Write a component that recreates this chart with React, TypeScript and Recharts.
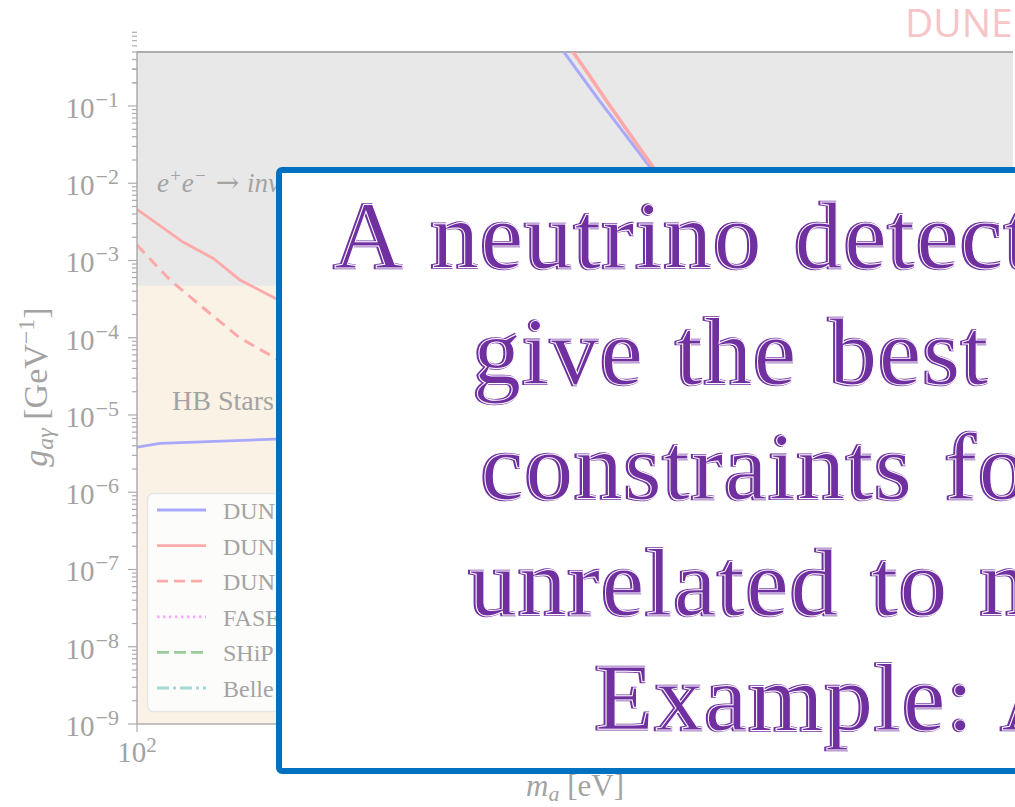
import React from 'react';
import { ComposedChart, Line, XAxis, YAxis, ReferenceArea, ReferenceLine } from 'recharts';

// Axis ranges (m_a in eV, g_aγ in GeV^-1)
const X_DOMAIN: [number, number] = [1e2, 1e10];
const Y_DOMAIN: [number, number] = [1e-9, 0.5];
const X_TICKS = [1e2];
const Y_EXPONENTS = [-9, -8, -7, -6, -5, -4, -3, -2, -1];

// Excluded regions
const EE_INVISIBLE_FLOOR = 4.7e-4; // e+e- -> inv. + γ excludes couplings above this
const HB_MASS_REACH = 1e5;

// DUNE sensitivity curves (mass in eV, coupling in GeV^-1)
const duneBlueLow = [
  { m: 100, g: 3.83e-6 },
  { m: 162, g: 4.3e-6 },
  { m: 1820, g: 4.87e-6 },
  { m: 3080, g: 4.95e-6 },
];
const duneBlueHigh = [
  { m: 6.0e5, g: 0.88 },
  { m: 7.9e5, g: 0.5 },
  { m: 1.65e6, g: 0.12 },
  { m: 4.84e6, g: 0.0162 },
  { m: 8.5e6, g: 4.5e-3 },
];
const duneRedLow = [
  { m: 100, g: 4.6e-3 },
  { m: 263, g: 1.73e-3 },
  { m: 494, g: 1.07e-3 },
  { m: 871, g: 5.6e-4 },
  { m: 1900, g: 3.16e-4 },
  { m: 3080, g: 2.3e-4 },
];
const duneRedHigh = [
  { m: 7.3e5, g: 0.88 },
  { m: 9.6e5, g: 0.5 },
  { m: 1.3e6, g: 0.27 },
  { m: 1.95e6, g: 0.115 },
  { m: 5.15e6, g: 0.0162 },
  { m: 9.1e6, g: 4.5e-3 },
];
const duneRedDashed = [
  { m: 100, g: 1.58e-3 },
  { m: 200, g: 5.6e-4 },
  { m: 376, g: 2.64e-4 },
  { m: 873, g: 9.9e-5 },
  { m: 1860, g: 5.4e-5 },
  { m: 3080, g: 3.8e-5 },
];

// Legend entries
const legendLabels = ['DUNE ND', 'DUNE ND', 'DUNE ND', 'FASER', 'SHiP', 'Belle II'];
const legendColors = ['#a9a9fb', '#fdaaaa', '#fdaaaa', '#fda6fd', '#9ccc9c', '#a2dad4'];
const legendDashes = ['', '', '11 6', '2.5 3.5', '12 5', '12 4 3 4'];

// Slide text
const titleText = 'DUNE';
const messageLines = [
  'A neutrino detector can',
  'give the best laboratory',
  'constraints for physics',
  'unrelated to neutrinos.',
  'Example: ALPs',
];
const messageStarts = [333, 472, 480, 468, 594];

const BLUE = '#a9a9fb';
const RED = '#fda9a9';
const AXIS = '#acacac';
const TEXT = '#a3a3a3';
const SERIF = '"Liberation Serif", "DejaVu Serif", serif';
const PURPLE = '#7030A0';

const yTicks: number[] = [];
for (const e of Y_EXPONENTS) {
  for (let k = 1; k <= 9; k++) yTicks.push(k * Math.pow(10, e));
}
yTicks.push(0.2, 0.3, 0.4);

const YTick = (props: any) => {
  const { x, y, payload } = props;
  const v = payload.value as number;
  const lg = Math.log10(v);
  const exp = Math.round(lg);
  const major = Math.abs(lg - exp) < 1e-6;
  return (
    <g>
      <line x1={x - (major ? 9 : 5)} x2={x} y1={y} y2={y} stroke={AXIS} strokeWidth={1.2} />
      {major && (
        <text x={x - 18} y={y + 12} textAnchor="end" fill={TEXT} fontFamily={SERIF} fontSize={29}>
          10
          <tspan dx={1} dy={-11} fontSize={22}>{`\u2212${-exp}`}</tspan>
        </text>
      )}
    </g>
  );
};

const XTick = (props: any) => {
  const { x, y, payload } = props;
  const exp = Math.round(Math.log10(payload.value));
  return (
    <g>
      <line x1={x} x2={x} y1={y} y2={y + 8} stroke={AXIS} strokeWidth={1.2} />
      <text x={x} y={y + 38} textAnchor="middle" fill={TEXT} fontFamily={SERIF} fontSize={29}>
        10
        <tspan dy={-10} fontSize={21}>{`${exp}`}</tspan>
      </text>
    </g>
  );
};

const W = 1015;
const H = 807;

export default function App() {
  return (
    <div style={{ position: 'absolute', left: 0, top: 0, width: W, height: H, overflow: 'hidden', background: '#fff' }}>
      <ComposedChart width={W} height={H} margin={{ top: 52, right: 2, bottom: 0, left: 0 }}>
        <XAxis
          dataKey="m"
          type="number"
          scale="log"
          domain={X_DOMAIN}
          allowDataOverflow
          ticks={X_TICKS}
          interval={0}
          height={83}
          tickSize={0}
          tickMargin={0}
          tickLine={false}
          tick={XTick}
          axisLine={{ stroke: AXIS, strokeWidth: 1.5 }}
        />
        <YAxis
          dataKey="g"
          type="number"
          scale="log"
          domain={Y_DOMAIN}
          allowDataOverflow
          ticks={yTicks}
          interval={0}
          width={137}
          tickSize={0}
          tickMargin={0}
          tickLine={false}
          tick={YTick}
          axisLine={{ stroke: AXIS, strokeWidth: 1.5 }}
        />
        <ReferenceArea x1={X_DOMAIN[0]} x2={HB_MASS_REACH} y1={Y_DOMAIN[0]} y2={Y_DOMAIN[1]} fill="#faf2e5" fillOpacity={1} stroke="none" />
        <ReferenceArea x1={X_DOMAIN[0]} x2={X_DOMAIN[1]} y1={EE_INVISIBLE_FLOOR} y2={Y_DOMAIN[1]} fill="#e8e8e8" fillOpacity={1} stroke="none" />
        <ReferenceLine y={Y_DOMAIN[1]} stroke={AXIS} strokeWidth={2} />
        <Line data={duneBlueLow} dataKey="g" stroke={BLUE} strokeWidth={2.8} dot={false} isAnimationActive={false} />
        <Line data={duneBlueHigh} dataKey="g" stroke={BLUE} strokeWidth={3} dot={false} isAnimationActive={false} />
        <Line data={duneRedLow} dataKey="g" stroke={RED} strokeWidth={2.8} dot={false} isAnimationActive={false} />
        <Line data={duneRedDashed} dataKey="g" stroke={RED} strokeWidth={3} strokeDasharray="11 7" dot={false} isAnimationActive={false} />
        <Line data={duneRedHigh} dataKey="g" stroke={RED} strokeWidth={3.6} dot={false} isAnimationActive={false} />
      </ComposedChart>

      <svg width={W} height={H} style={{ position: 'absolute', left: 0, top: 0 }}>
        {/* region annotations */}
        <text x={157} y={192} fill={TEXT} fontFamily={SERIF} fontSize={27} fontStyle="italic">
          e<tspan dy={-10} fontSize={19}>+</tspan>
          <tspan dy={10}>e</tspan>
          <tspan dy={-10} fontSize={19}>{'\u2212'}</tspan>
          <tspan dy={10} dx={9} fontStyle="normal" fontFamily='"DejaVu Serif", serif' fontSize={28}>{'\u2192'}</tspan>
          <tspan dx={8}>inv</tspan>
        </text>
        <text x={172} y={410} fill={TEXT} fontFamily={SERIF} fontSize={28}>HB Stars</text>

        {/* legend */}
        <rect x={147.5} y={493.5} width={200} height={218} rx={6} fill="#fcfcfb" stroke="#e6e6e6" strokeWidth={1.5} />
        {legendLabels.map((lab, i) => {
          const y = 510 + i * 35.6;
          return (
            <g key={i}>
              <line x1={157} x2={206} y1={y} y2={y} stroke={legendColors[i]} strokeWidth={2.8} strokeDasharray={legendDashes[i] || undefined} />
              <text x={223} y={y + 9} fill={TEXT} fontFamily={SERIF} fontSize={24}>{lab}</text>
            </g>
          );
        })}

        {/* axis titles */}
        <text x={575} y={796} textAnchor="middle" fill={TEXT} fontFamily={SERIF} fontSize={31}>
          <tspan fontStyle="italic">m</tspan>
          <tspan dy={5} fontSize={22} fontStyle="italic">a</tspan>
          <tspan dy={-5}>{' [eV]'}</tspan>
        </text>
        <text x={47} y={387} transform="rotate(-90, 47, 387)" textAnchor="middle" fill={TEXT} fontFamily={SERIF} fontSize={34}>
          <tspan fontStyle="italic">g</tspan>
          <tspan dy={6} fontSize={24} fontStyle="italic">aγ</tspan>
          <tspan dy={-6}>{' [GeV'}</tspan>
          <tspan dy={-13} fontSize={24}>{'\u22121'}</tspan>
          <tspan dy={13}>]</tspan>
        </text>

        {/* title */}
        <text x={905} y={37} fill="#f6c5c7" fontFamily='"Open Sans", "Noto Sans", sans-serif' fontSize={39}>{titleText}</text>

        {/* message box */}
        <rect x={279} y={170} width={800} height={601} rx={3} fill="#ffffff" stroke="#0070c0" strokeWidth={6} />
        {messageLines.map((ln, i) => (
          <g key={ln} fontFamily={SERIF} fontSize={96} letterSpacing={1.5} wordSpacing={6}>
            <text x={messageStarts[i]} y={268 + i * 115.5} fill={PURPLE} stroke={PURPLE} strokeWidth={2.6}>{ln}</text>
            <text x={messageStarts[i] + 1.3} y={268 + i * 115.5} fill="none" stroke="#ffffff" strokeWidth={1}>{ln}</text>
          </g>
        ))}
      </svg>
    </div>
  );
}
